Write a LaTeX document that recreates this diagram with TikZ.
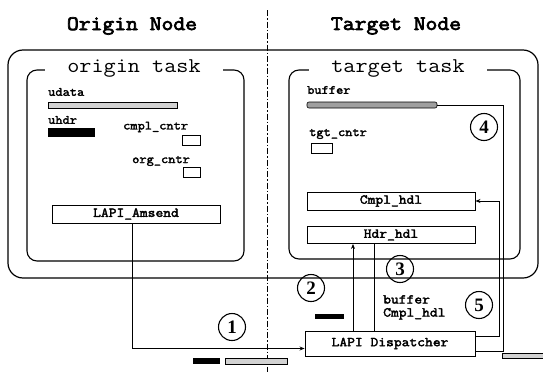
\documentclass[tikz,border=0pt]{standalone}
\usepackage{fontspec}
\newfontfamily\ttreg{Latin Modern Mono}[FakeStretch=1.12]
\newfontfamily\ttbold{Latin Modern Mono}[FakeBold=2.5, FakeStretch=1.12]
\newfontfamily\ttheavy{Latin Modern Mono}[FakeBold=3.5, FakeStretch=1.12]
\newfontfamily\numfont{Liberation Serif}
\usetikzlibrary{arrows.meta}
\tikzset{
  frame/.style={draw, line width=1.2pt, rounded corners=15pt},
  taskframe/.style={draw, line width=1.1pt, rounded corners=10pt},
  tasktitle/.style={fill=white, inner xsep=22pt, inner ysep=2pt, font=\ttreg\fontsize{21}{23}\selectfont},
  header/.style={font=\ttheavy\fontsize{20.5}{22}\selectfont},
  lbl/.style={font=\ttbold\fontsize{12.5}{14}\selectfont, inner sep=0pt},
  func/.style={draw, line width=0.9pt, minimum width=168pt, minimum height=18pt, inner sep=0pt,
    font=\ttbold\fontsize{13.5}{15}\selectfont},
  stepnum/.style={draw, circle, line width=1.1pt, minimum size=27pt, inner sep=0pt,
    font=\numfont\bfseries\fontsize{19}{20}\selectfont},
  lightbar/.style={draw, line width=0.6pt, fill=gray!35, inner sep=0pt},
  darkbar/.style={draw, line width=0.6pt, fill=gray!75, inner sep=0pt},
  solidbar/.style={fill=black, inner sep=0pt},
  cntr/.style={draw, line width=0.9pt, inner sep=0pt},
  link/.style={line width=0.9pt},
  arr/.style={line width=0.9pt, -{Stealth[length=5pt,width=4pt]}},
}
\begin{document}
\begin{tikzpicture}[x=1pt, y=-1pt]
  \useasboundingbox (0,0) rectangle (543,372);

  % node boundary
  \draw[line width=0.9pt, dash pattern=on 6pt off 2pt on 1.5pt off 2pt] (267,10) -- (267,372);

  % headers
  \node[header] (hdrL) at (132,26) {Origin Node};
  \node[header] (hdrR) at (396,26) {Target Node};

  % outer frame spanning both nodes
  \draw[frame] (8,50) rectangle (538,278);

  % task frames with titles
  \draw[taskframe] (27,70) rectangle (244,261);
  \node[tasktitle] (otask) at (134,68) {origin task};
  \draw[taskframe] (289,70) rectangle (520,259);
  \node[tasktitle] (ttask) at (398,68) {target task};

  % origin task contents
  \node[lbl, anchor=west] (udata) at (48,92) {udata};
  \node[lightbar, minimum width=129pt, minimum height=6pt] (ubar) at (112.5,105) {};
  \node[lbl, anchor=west] (uhdr) at (48,120) {uhdr};
  \node[solidbar, minimum width=47pt, minimum height=9pt] (hbar) at (71.5,132.5) {};
  \node[lbl, anchor=west] (cmplc) at (123,127) {cmpl\_cntr};
  \node[cntr, minimum width=18pt, minimum height=10pt] (cmplbox) at (191,140) {};
  \node[lbl, anchor=west] (orgc) at (132,161) {org\_cntr};
  \node[cntr, minimum width=17pt, minimum height=10pt] (orgbox) at (191.5,172) {};
  \node[func] (ams) at (136,214) {LAPI\_Amsend};

  % target task contents
  \node[lbl, anchor=west] (bufl) at (307,90) {buffer};
  \node[darkbar, rounded corners=2pt, minimum width=130pt, minimum height=6pt] (buf) at (372,105) {};
  \node[lbl, anchor=west] (tgtc) at (309,134) {tgt\_cntr};
  \node[cntr, minimum width=21pt, minimum height=10pt] (tgtbox) at (321.5,148) {};
  \node[func] (cmpl) at (391,201) {Cmpl\_hdl};
  \node[func, minimum height=17pt] (hdr) at (391,235) {Hdr\_hdl};

  % dispatcher
  \node[func, minimum width=170pt, minimum height=25pt] (disp) at (390,343.5) {LAPI Dispatcher};

  % message pieces
  \node[solidbar, minimum width=29pt, minimum height=5pt] (hpiece) at (329.5,316.5) {};
  \node[solidbar, minimum width=27pt, minimum height=6pt] (hmsg) at (206.5,361) {};
  \node[lightbar, minimum width=62pt, minimum height=6pt] (dmsg) at (256,361) {};
  \node[lightbar, minimum width=42pt, minimum height=5pt] (dout) at (523,355.5) {};

  % text beside the handler return
  \node[align=left, anchor=north west, inner sep=0pt,
        font=\ttbold\fontsize{13.5}{13}\selectfont] (ret) at (383,295) {buffer\\Cmpl\_hdl};

  % connectors
  \coordinate (upx) at (353,0);
  \coordinate (dnx) at (374,0);
  \coordinate (r1) at (499,201);
  \coordinate (r2) at (503,105);
  \draw[arr] ([xshift=-4pt]ams.south) |- ([yshift=-5pt]disp.west);
  \draw[arr] (disp.north -| upx) -- (hdr.south -| upx);
  \draw[link] (hdr.south -| dnx) -- (disp.north -| dnx);
  \draw[arr] ([yshift=7.5pt]disp.east) -| (r1) -- (cmpl.east);
  \draw[link] ([yshift=-8pt]disp.east) -| (r2) -- (buf.east);

  % step numbers
  \node[stepnum] (s1) at (232,327) {1};
  \node[stepnum] (s2) at (311,288) {2};
  \node[stepnum] (s3) at (400,269) {3};
  \node[stepnum] (s4) at (484,127) {4};
  \node[stepnum] (s5) at (479,305) {5};
\end{tikzpicture}
\end{document}
